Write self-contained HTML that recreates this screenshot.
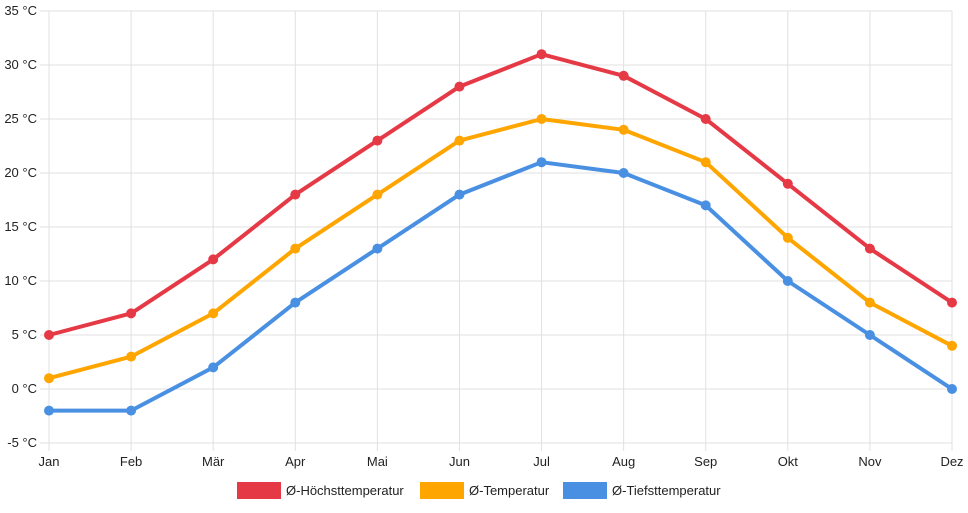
<!DOCTYPE html>
<html><head><meta charset="utf-8"><style>
body{margin:0;background:#fff;font-family:"Liberation Sans",sans-serif}
svg text{font-family:"Liberation Sans",sans-serif;font-size:13px;fill:#222}
</style></head><body>
<svg id="c" width="968" height="508"></svg>
<script>
const categories=["Jan","Feb","Mär","Apr","Mai","Jun","Jul","Aug","Sep","Okt","Nov","Dez"];
const maxTemp=[5,7,12,18,23,28,31,29,25,19,13,8];
const avgTemp=[1,3,7,13,18,23,25,24,21,14,8,4];
const minTemp=[-2,-2,2,8,13,18,21,20,17,10,5,0];
const yTicks=[-5,0,5,10,15,20,25,30,35];
const seriesNames=["Ø-Höchsttemperatur","Ø-Temperatur","Ø-Tiefsttemperatur"];
const colors=["#e63946","#ffa500","#4a90e2"];
const svg=document.getElementById('c');const NS="http://www.w3.org/2000/svg";
const x0=49,x1=952,yTop=11,yBot=443,vMin=-5,vMax=35;
const X=i=>x0+i*(x1-x0)/(categories.length-1);
const Y=v=>yBot-(v-vMin)*(yBot-yTop)/(vMax-vMin);
function mk(t,a){const e=document.createElementNS(NS,t);for(const k in a)e.setAttribute(k,a[k]);svg.appendChild(e);return e;}
yTicks.forEach(v=>{
 const l=mk('line',{x1:40,x2:x1,y1:Y(v),y2:Y(v),stroke:'#e0e0e0','stroke-width':1});
 
 
 const t=mk('text',{x:37,y:Y(v)+4,'text-anchor':'end'});t.textContent=v+' °C';
 
 
});
categories.forEach((c,i)=>{
 const l=mk('line',{x1:X(i),x2:X(i),y1:yTop,y2:yBot+8,stroke:'#e0e0e0','stroke-width':1});
 
 
 const t=mk('text',{x:X(i),y:466,'text-anchor':'middle'});t.textContent=c;
 
 
});
[maxTemp,avgTemp,minTemp].forEach((d,s)=>{
 const p=mk('polyline',{points:d.map((v,i)=>X(i)+','+Y(v)).join(' '),fill:'none',stroke:colors[s],'stroke-width':4,'stroke-linejoin':'round'});
 
 
 d.forEach((v,i)=>{const c=mk('circle',{cx:X(i),cy:Y(v),r:5,fill:colors[s]});
  
  });
});
const lx=[237,420,563];
seriesNames.forEach((n,s)=>{
 const r=mk('rect',{x:lx[s],y:482,width:44,height:17,fill:colors[s]});
 
 
 const t=mk('text',{x:lx[s]+49,y:495});t.textContent=n;
 
 
});
</script>
</body></html>
